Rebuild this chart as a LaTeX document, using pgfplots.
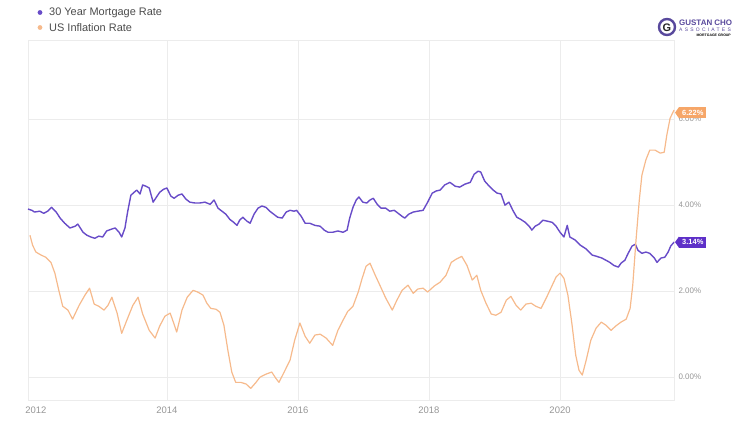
\documentclass[border=0pt]{standalone}
\usepackage{fontspec}
\setmainfont{Liberation Sans}
\usepackage{pgfplots}
\pgfplotsset{compat=1.18}

\definecolor{mortgage}{RGB}{104,76,200}
\definecolor{mortgagebadge}{RGB}{94,48,200}
\definecolor{inflation}{RGB}{246,186,140}
\definecolor{inflationbadge}{RGB}{246,166,104}
\definecolor{gridgray}{RGB}{236,236,236}
\definecolor{labelgray}{RGB}{150,150,150}
\definecolor{logopurple}{RGB}{88,72,156}

\begin{document}
\begin{tikzpicture}[x=1bp,y=1bp]
    \path (0,0) rectangle (750,430);
    \begin{axis}[
            at={(28bp,30bp)}, anchor=south west,
            scale only axis,
            width=646bp, height=360bp,
            xmin=2011.88, xmax=2021.74, %
            ymin=-0.53, ymax=7.84, %
            axis line style={draw=gridgray},
            major tick length=0pt,
            grid=major,
            major grid style={gridgray, line width=0.6bp},
            xtick={2014,2016,2018,2020},
            extra x ticks={2012},
            extra x tick style={grid=none},
            /pgf/number format/1000 sep={},
            /pgf/number format/assume math mode=true,
            xticklabel style={font=\fontsize{9.5}{11}\selectfont, text=labelgray, yshift=-3bp},
            ytick={0,2,4,6},
            yticklabel pos=right,
            yticklabel={\pgfmathprintnumber[fixed,fixed zerofill,precision=2]{\tick}\%},
            yticklabel style={font=\fontsize{8}{10}\selectfont, text=labelgray, anchor=west, xshift=1bp},
            clip=false,
        ]
        %% 30 year mortgage rate
        \addplot[mortgage, line width=1.4bp, line join=round] coordinates {
                (2011.88,3.91) (2011.94,3.88) (2011.98,3.84) (2012.06,3.86) (2012.12,3.81)
                (2012.18,3.86) (2012.24,3.95) (2012.31,3.84) (2012.37,3.70) (2012.44,3.58)
                (2012.52,3.47) (2012.60,3.51) (2012.64,3.56) (2012.72,3.37) (2012.78,3.30)
                (2012.84,3.26) (2012.90,3.23) (2012.96,3.28) (2013.02,3.26) (2013.08,3.40)
                (2013.15,3.44) (2013.21,3.47) (2013.27,3.37) (2013.31,3.26) (2013.36,3.47)
                (2013.40,3.84) (2013.45,4.23) (2013.50,4.30) (2013.54,4.35) (2013.59,4.26)
                (2013.63,4.47) (2013.68,4.44) (2013.73,4.40) (2013.79,4.07) (2013.85,4.21)
                (2013.89,4.30) (2013.95,4.37) (2014.00,4.40) (2014.06,4.21) (2014.11,4.16)
                (2014.17,4.23) (2014.23,4.26) (2014.29,4.14) (2014.35,4.07) (2014.43,4.05)
                (2014.50,4.05) (2014.58,4.07) (2014.66,4.02) (2014.72,4.12) (2014.78,3.93)
                (2014.84,3.86) (2014.90,3.79) (2014.96,3.67) (2015.02,3.60) (2015.07,3.53)
                (2015.11,3.65) (2015.16,3.72) (2015.22,3.63) (2015.27,3.58) (2015.33,3.79)
                (2015.39,3.93) (2015.45,3.98) (2015.51,3.95) (2015.57,3.86) (2015.63,3.79)
                (2015.69,3.72) (2015.76,3.70) (2015.82,3.84) (2015.88,3.88) (2015.94,3.86)
                (2015.98,3.88) (2016.05,3.74) (2016.11,3.58) (2016.18,3.58) (2016.26,3.53)
                (2016.34,3.51) (2016.40,3.42) (2016.46,3.37) (2016.53,3.37) (2016.61,3.40)
                (2016.69,3.37) (2016.75,3.42) (2016.79,3.70) (2016.84,3.95) (2016.89,4.12)
                (2016.93,4.19) (2016.99,4.07) (2017.05,4.05) (2017.10,4.12) (2017.15,4.16)
                (2017.21,4.02) (2017.27,3.93) (2017.34,3.93) (2017.40,3.86) (2017.47,3.88)
                (2017.53,3.81) (2017.59,3.74) (2017.63,3.70) (2017.69,3.79) (2017.76,3.84)
                (2017.83,3.86) (2017.91,3.88) (2017.98,4.07) (2018.05,4.28) (2018.11,4.33)
                (2018.17,4.35) (2018.24,4.47) (2018.32,4.53) (2018.40,4.44) (2018.47,4.42)
                (2018.55,4.49) (2018.63,4.53) (2018.69,4.72) (2018.75,4.79) (2018.79,4.77)
                (2018.85,4.56) (2018.92,4.44) (2018.98,4.35) (2019.04,4.28) (2019.10,4.26)
                (2019.16,4.00) (2019.22,4.07) (2019.28,3.88) (2019.34,3.72) (2019.40,3.67)
                (2019.47,3.60) (2019.53,3.51) (2019.57,3.42) (2019.62,3.51) (2019.68,3.56)
                (2019.74,3.65) (2019.80,3.63) (2019.88,3.60) (2019.94,3.51) (2020.00,3.37)
                (2020.06,3.26) (2020.11,3.53) (2020.15,3.26) (2020.23,3.19) (2020.31,3.07)
                (2020.40,2.98) (2020.49,2.84) (2020.56,2.81) (2020.64,2.77) (2020.70,2.72)
                (2020.76,2.67) (2020.82,2.60) (2020.89,2.56) (2020.93,2.65) (2020.99,2.72)
                (2021.04,2.88) (2021.10,3.05) (2021.15,3.09) (2021.19,2.95) (2021.25,2.88)
                (2021.31,2.91) (2021.37,2.88) (2021.44,2.77) (2021.48,2.67) (2021.54,2.77)
                (2021.60,2.79) (2021.65,2.91) (2021.69,3.05) (2021.74,3.14)
            };
        %% US inflation rate
        \addplot[inflation, line width=1.2bp, line join=round] coordinates {
                (2011.91,3.30) (2011.95,3.07) (2012.00,2.91) (2012.08,2.84) (2012.15,2.79)
                (2012.23,2.67) (2012.29,2.42) (2012.35,2.02) (2012.41,1.65) (2012.49,1.56)
                (2012.56,1.35) (2012.66,1.67) (2012.75,1.91) (2012.82,2.07) (2012.89,1.70)
                (2012.96,1.65) (2013.04,1.56) (2013.10,1.67) (2013.16,1.86) (2013.24,1.49)
                (2013.31,1.02) (2013.40,1.37) (2013.48,1.67) (2013.56,1.86) (2013.63,1.47)
                (2013.73,1.09) (2013.82,0.91) (2013.89,1.19) (2013.97,1.42) (2014.05,1.49)
                (2014.11,1.23) (2014.15,1.05) (2014.23,1.56) (2014.31,1.86) (2014.40,2.02)
                (2014.47,1.98) (2014.55,1.91) (2014.61,1.72) (2014.67,1.60) (2014.75,1.58)
                (2014.81,1.51) (2014.87,1.21) (2014.93,0.63) (2014.99,0.12) (2015.05,-0.12)
                (2015.13,-0.12) (2015.21,-0.16) (2015.28,-0.26) (2015.36,-0.12) (2015.42,0.00)
                (2015.51,0.07) (2015.60,0.12) (2015.66,-0.02) (2015.71,-0.12) (2015.79,0.12)
                (2015.88,0.40) (2015.95,0.86) (2016.03,1.26) (2016.11,0.95) (2016.18,0.79)
                (2016.26,0.98) (2016.34,1.00) (2016.43,0.91) (2016.53,0.74) (2016.61,1.09)
                (2016.69,1.33) (2016.76,1.53) (2016.84,1.65) (2016.92,1.98) (2016.98,2.30)
                (2017.04,2.58) (2017.10,2.65) (2017.18,2.37) (2017.25,2.14) (2017.34,1.84)
                (2017.44,1.56) (2017.51,1.79) (2017.59,2.02) (2017.68,2.14) (2017.76,1.95)
                (2017.83,2.05) (2017.91,2.07) (2017.98,1.98) (2018.08,2.12) (2018.17,2.21)
                (2018.26,2.37) (2018.34,2.67) (2018.41,2.74) (2018.50,2.81) (2018.58,2.60)
                (2018.66,2.26) (2018.73,2.37) (2018.79,2.02) (2018.87,1.72) (2018.95,1.47)
                (2019.02,1.44) (2019.10,1.51) (2019.18,1.79) (2019.25,1.88) (2019.33,1.67)
                (2019.40,1.56) (2019.48,1.70) (2019.56,1.72) (2019.63,1.65) (2019.71,1.60)
                (2019.79,1.84) (2019.86,2.07) (2019.94,2.33) (2020.00,2.42) (2020.06,2.30)
                (2020.12,1.91) (2020.18,1.26) (2020.24,0.51) (2020.29,0.16) (2020.34,0.05)
                (2020.40,0.40) (2020.47,0.86) (2020.55,1.14) (2020.63,1.28) (2020.70,1.21)
                (2020.78,1.09) (2020.85,1.19) (2020.93,1.28) (2021.01,1.35) (2021.07,1.60)
                (2021.11,2.14) (2021.16,3.19) (2021.21,4.12) (2021.25,4.70) (2021.31,5.05)
                (2021.37,5.28) (2021.45,5.28) (2021.53,5.21) (2021.59,5.23) (2021.63,5.63)
                (2021.68,6.02) (2021.74,6.21)
            };
        %% value badges at the last points
        \node[fill=inflationbadge, text=white, font=\bfseries\fontsize{7.5}{9}\selectfont,
            inner xsep=3bp, inner ysep=2.8bp, anchor=west, xshift=5bp, yshift=-3bp] (ob) at (axis cs:2021.74,6.22) {6.22\%};
        \fill[inflationbadge] (ob.north west) -- ([xshift=-4bp]ob.west) -- (ob.south west) -- cycle;
        \node[fill=mortgagebadge, text=white, font=\bfseries\fontsize{7.5}{9}\selectfont,
            inner xsep=3bp, inner ysep=2.8bp, anchor=west, xshift=5bp] (mb) at (axis cs:2021.74,3.14) {3.14\%};
        \fill[mortgagebadge] (mb.north west) -- ([xshift=-4bp]mb.west) -- (mb.south west) -- cycle;
    \end{axis}

    %% legend
    \fill[mortgage] (40,417.5) circle (2.4);
    \node[anchor=west, inner sep=0pt, text=black!70, font=\fontsize{11}{13}\selectfont] at (49,417.5) {30 Year Mortgage Rate};
    \fill[inflation] (40,402.5) circle (2.4);
    \node[anchor=west, inner sep=0pt, text=black!70, font=\fontsize{11}{13}\selectfont] at (49,402.5) {US Inflation Rate};

    %% logo
    \draw[logopurple, line width=2.4bp] (667,403) circle (8);
    \node[text=black!85, font=\bfseries\fontsize{11}{11}\selectfont] at (667,402.5) {G};
    \node[anchor=west, inner sep=0pt, text=logopurple, font=\bfseries\fontsize{8}{9}\selectfont] at (679,407) {GUSTAN CHO};
    \node[anchor=west, inner sep=0pt, text=logopurple, font=\addfontfeature{LetterSpace=45}\fontsize{5}{6}\selectfont] at (679,400) {ASSOCIATES};
    \node[anchor=east, inner sep=0pt, text=black, font=\bfseries\fontsize{3.5}{4}\selectfont] at (731,395) {MORTGAGE GROUP};
\end{tikzpicture}
\end{document}
